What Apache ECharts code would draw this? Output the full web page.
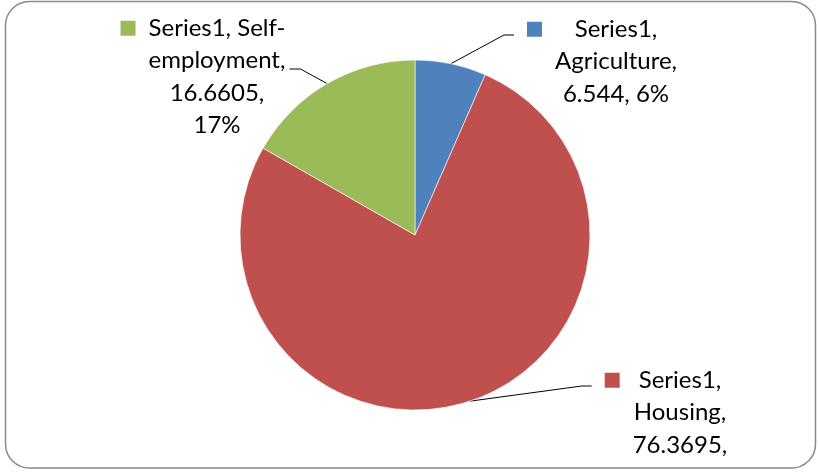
<!DOCTYPE html>
<html>
<head>
<meta charset="utf-8">
<script src="https://cdn.jsdelivr.net/npm/echarts@6/dist/echarts.min.js"></script>
<style>
  html, body { margin: 0; padding: 0; background: #fff; }
  #chart { width: 819px; height: 474px; }
</style>
</head>
<body>
<div id="chart"></div>
<script>
// ---- data ----
const seriesName = 'Series1';
const categories = ['Agriculture', 'Housing', 'Self-employment'];
const values = [6.544, 76.3695, 16.6605];
const pctLabels = ['6%', '76%', '17%'];
// how many words go on each wrapped label line
const wrapCounts = [[1, 1, 2], [1, 1, 1, 1], [2, 1, 1, 1]];

// ---- style / layout ----
const colors = ['#4F81BD', '#C0504D', '#9BBB59'];
const labelAnchors = [
  { cx: 616, top: 13, side: 'left', ey: 35 },
  { cx: 680, top: 364, side: 'left', ey: 386 },
  { cx: 217, top: 12, side: 'right', ey: 69 }
];
const FONT = 'Lato, "Open Sans", sans-serif';
const KEY_COL = 28;

function labelLines(i) {
  const nameParts = categories[i].split(/(?<=-)/);
  nameParts[nameParts.length - 1] += ',';
  const words = [seriesName + ','].concat(nameParts, [values[i] + ',', pctLabels[i]]);
  const lines = [];
  let k = 0;
  wrapCounts[i].forEach(n => {
    let s = '';
    for (let j = 0; j < n; j++) {
      const w = words[k++];
      s += (s && !s.endsWith('-') ? ' ' : '') + w;
    }
    lines.push(s);
  });
  return lines;
}

const rich = {
  g: { width: 13, align: 'left' },
  s: { width: KEY_COL, align: 'left' },
  t: { align: 'center', fontFamily: FONT, fontSize: 24, color: '#000', lineHeight: 32.5 }
};
colors.forEach((c, i) => {
  rich['k' + i] = { width: 15, height: 15, backgroundColor: c, align: 'left' };
});

const data = categories.map((name, i) => ({
  name: name,
  value: values[i],
  itemStyle: { color: colors[i] }
}));

const chart = echarts.init(document.getElementById('chart'), null, { renderer: 'canvas' });
chart.setOption({
  animation: false,
  backgroundColor: '#fff',
  graphic: [{
    // chart-area clipping (text beyond the frame is hidden, as in the original)
    type: 'rect',
    shape: { x: 0, y: 463.5, width: 819, height: 15 },
    style: { fill: '#fff' },
    z: 99, silent: true
  }, {
    type: 'rect',
    shape: { x: 5.5, y: 1.5, width: 810, height: 466.5, r: 24 },
    style: { fill: 'none', stroke: '#8a8a8a', lineWidth: 1.5 },
    z: 100, silent: true
  }],
  series: [{
    type: 'pie',
    name: seriesName,
    center: [415, 235],
    radius: 175,
    startAngle: 90,
    clockwise: true,
    avoidLabelOverlap: false,
    itemStyle: { borderColor: '#fff', borderWidth: 0.6 },
    emphasis: { disabled: true },
    data: data,
    label: {
      show: true,
      position: 'outside',
      fontFamily: FONT,
      fontSize: 24,
      color: '#000',
      lineHeight: 32.5,
      formatter: function (p) {
        const i = p.dataIndex;
        return labelLines(i).map((l, j) =>
          (j === 0 ? '{k' + i + '|}{g|}' : '{s|}') + '{t|' + l + '}'
        ).join('\n');
      },
      rich: rich
    },
    labelLine: {
      show: true,
      lineStyle: { color: '#000', width: 1 }
    },
    labelLayout: function (params) {
      const i = params.dataIndex;
      const a = labelAnchors[i];
      const w = params.labelRect.width;
      const bx = a.cx - KEY_COL / 2;
      const p0 = params.labelLinePoints ? params.labelLinePoints[0] : null;
      let end, elbow;
      if (a.side === 'left') {
        end = [bx - w / 2 - 13, a.ey];
        elbow = [end[0] - 10, a.ey];
      } else {
        const textW = w - KEY_COL;
        end = [a.cx + textW / 2 + 4, a.ey];
        elbow = [end[0] + 11, a.ey];
      }
      const res = { x: bx, y: a.top, align: 'center', verticalAlign: 'top' };
      if (p0) res.labelLinePoints = [p0, elbow, end];
      return res;
    }
  }]
});
</script>
</body>
</html>
